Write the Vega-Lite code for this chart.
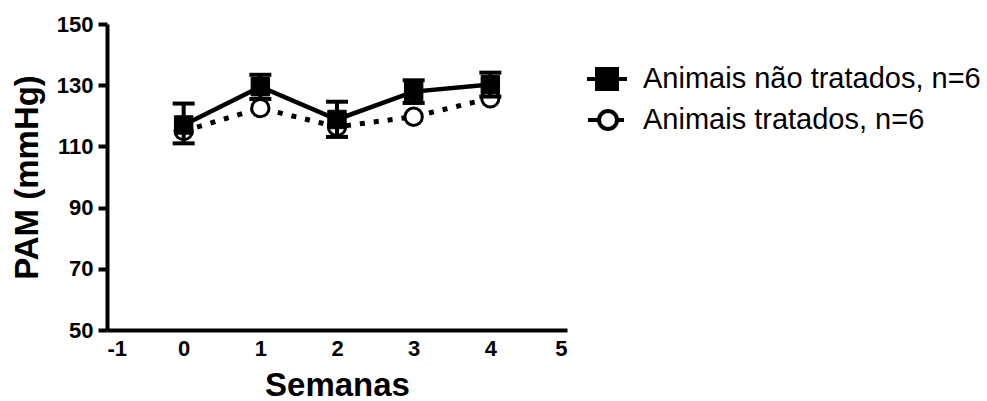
{
  "$schema": "https://vega.github.io/schema/vega-lite/v6.json",
  "autosize": {"type": "none"},
  "width": 460,
  "height": 306,
  "padding": {"left": 107, "top": 24, "right": 420, "bottom": 71},
  "background": "white",
  "config": {
    "view": {"stroke": null},
    "font": "Liberation Sans",
    "axis": {
      "grid": false,
      "domainColor": "black",
      "domainWidth": 4,
      "tickColor": "black",
      "tickWidth": 4,
      "labelFont": "Liberation Sans",
      "labelFontWeight": "bold",
      "labelFontSize": 22,
      "labelColor": "black",
      "titleFont": "Liberation Sans",
      "titleFontWeight": "bold",
      "titleColor": "black"
    }
  },
  "data": {
    "values": [
      {"semana": 0, "grupo": "Animais não tratados, n=6", "pam": 117.0, "low": 111.0, "high": 124.0},
      {"semana": 1, "grupo": "Animais não tratados, n=6", "pam": 129.5, "low": 125.5, "high": 133.4},
      {"semana": 2, "grupo": "Animais não tratados, n=6", "pam": 118.8, "low": 113.1, "high": 124.6},
      {"semana": 3, "grupo": "Animais não tratados, n=6", "pam": 127.9, "low": 124.2, "high": 131.6},
      {"semana": 4, "grupo": "Animais não tratados, n=6", "pam": 130.2, "low": 126.3, "high": 134.1},
      {"semana": 0, "grupo": "Animais tratados, n=6", "pam": 115.0},
      {"semana": 1, "grupo": "Animais tratados, n=6", "pam": 122.5},
      {"semana": 2, "grupo": "Animais tratados, n=6", "pam": 116.4},
      {"semana": 3, "grupo": "Animais tratados, n=6", "pam": 119.7},
      {"semana": 4, "grupo": "Animais tratados, n=6", "pam": 125.7}
    ]
  },
  "encoding": {
    "x": {
      "field": "semana",
      "type": "quantitative",
      "scale": {"domain": [-1, 5], "nice": false, "zero": false},
      "axis": {
        "values": [-1, 0, 1, 2, 3, 4, 5],
        "labelExpr": "'' + datum.value",
        "ticks": false,
        "labelPadding": 8,
        "title": "Semanas",
        "titleFontSize": 33,
        "titlePadding": 10
      }
    },
    "y": {
      "field": "pam",
      "type": "quantitative",
      "scale": {"domain": [50, 150], "nice": false, "zero": false},
      "axis": {
        "values": [50, 70, 90, 110, 130, 150],
        "tickSize": 9,
        "labelPadding": 5,
        "title": "PAM (mmHg)",
        "titleFontSize": 33,
        "titlePadding": 12
      }
    }
  },
  "layer": [
    {
      "transform": [{"filter": "datum.grupo === 'Animais tratados, n=6'"}],
      "mark": {"type": "line", "color": "black", "strokeWidth": 5, "strokeDash": [5, 9], "strokeCap": "butt"}
    },
    {
      "transform": [{"filter": "datum.grupo === 'Animais não tratados, n=6'"}],
      "mark": {"type": "line", "color": "black", "strokeWidth": 4.5}
    },
    {
      "transform": [{"filter": "datum.grupo === 'Animais tratados, n=6'"}],
      "mark": {"type": "point", "shape": "circle", "filled": true, "stroke": "black", "strokeWidth": 3, "size": 300, "opacity": 1},
      "encoding": {
        "fill": {
          "field": "grupo",
          "type": "nominal",
          "scale": {"domain": ["Animais não tratados, n=6", "Animais tratados, n=6"], "range": ["black", "white"]},
          "legend": {
            "orient": "none",
            "legendX": 478,
            "legendY": 33,
            "title": null,
            "padding": 0,
            "labelFont": "Liberation Sans",
            "labelFontSize": 29,
            "labelColor": "black",
            "labelOffset": 14,
            "labelLimit": 500,
            "symbolSize": 1600,
            "symbolStrokeWidth": 4,
            "symbolStrokeColor": "black",
            "symbolOpacity": 1,
            "rowPadding": 1,
            "encoding": {
              "symbols": {
                "shape": {"value": {"expr": "datum.value === 'Animais tratados, n=6' ? 'M-0.95,0H-0.45M-0.4,0A0.45,0.45,0,1,1,0.5,0A0.45,0.45,0,1,1,-0.4,0ZM0.5,0H0.85' : 'M-1,0H-0.5M-0.5,-0.5H0.5V0.5H-0.5ZM0.5,0H1'"}},
                "stroke": {"value": "black"},
                "opacity": {"value": 1}
              }
            }
          }
        }
      }
    },
    {
      "transform": [{"filter": "datum.grupo === 'Animais não tratados, n=6'"}],
      "mark": {"type": "rule", "color": "black", "strokeWidth": 4},
      "encoding": {
        "y": {"field": "low", "type": "quantitative"},
        "y2": {"field": "high"}
      }
    },
    {
      "transform": [{"filter": "datum.grupo === 'Animais não tratados, n=6'"}],
      "mark": {"type": "tick", "orient": "horizontal", "color": "black", "size": 22, "thickness": 4, "opacity": 1},
      "encoding": {"y": {"field": "low", "type": "quantitative"}}
    },
    {
      "transform": [{"filter": "datum.grupo === 'Animais não tratados, n=6'"}],
      "mark": {"type": "tick", "orient": "horizontal", "color": "black", "size": 22, "thickness": 4, "opacity": 1},
      "encoding": {"y": {"field": "high", "type": "quantitative"}}
    },
    {
      "transform": [{"filter": "datum.grupo === 'Animais não tratados, n=6'"}],
      "mark": {"type": "point", "shape": "square", "filled": true, "stroke": "black", "strokeWidth": 1, "size": 340, "opacity": 1},
      "encoding": {
        "fill": {"field": "grupo", "type": "nominal"}
      }
    }
  ]
}
